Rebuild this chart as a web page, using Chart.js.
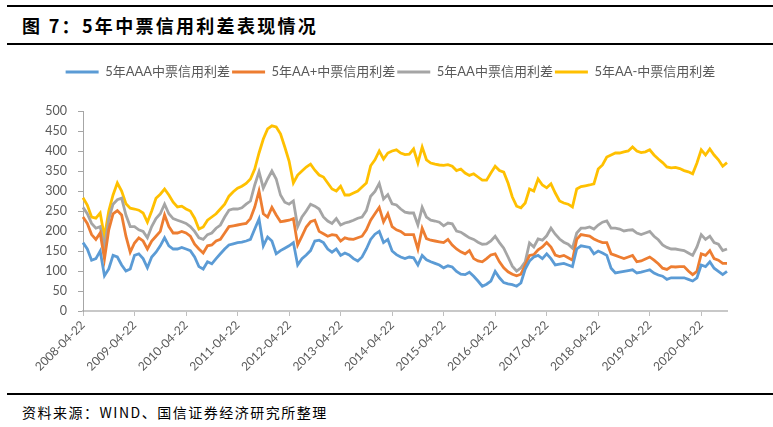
<!DOCTYPE html>
<html>
<head>
<meta charset="utf-8">
<script src="https://cdn.jsdelivr.net/npm/chart.js@4.4.0/dist/chart.umd.min.js"></script>
<style>
  body { margin: 0; width: 773px; height: 427px; background: #fff; position: relative; overflow: hidden;
         font-family: "Noto Sans CJK SC", sans-serif; }
  .rule { position: absolute; left: 7px; right: 0; height: 2px; background: #000; }
  #title { position: absolute; left: 22px; top: 12px; font-size: 18px; font-weight: bold;
           letter-spacing: 2.3px; line-height: 27px; color: #000; }
  #source { position: absolute; left: 22px; top: 402px; font-size: 14px; letter-spacing: 1.5px;
            line-height: 20px; color: #000; }
  #wrap { position: absolute; left: 0; top: 50px; width: 773px; height: 340px; }
</style>
</head>
<body>
<div class="rule" style="top:5px"></div>
<div id="title">图 7：5年中票信用利差表现情况</div>
<div class="rule" style="top:43px"></div>
<div id="wrap"><canvas id="chart" width="773" height="340"></canvas></div>
<div class="rule" style="top:393px"></div>
<div id="source">资料来源：WIND、国信证券经济研究所整理</div>

<script>
// 5-year MTN credit spreads (bp), monthly readings from 2008-04 to 2020-10
const seriesNames = ['5年AAA中票信用利差', '5年AA+中票信用利差', '5年AA中票信用利差', '5年AA-中票信用利差'];
const seriesColors = ['#5b9bd5', '#ed7d31', '#a5a5a5', '#ffc000'];

const spreadAAA = [
  171,155,127,131,150,88,105,139,135,115,
  100,105,139,143,131,108,135,147,163,183,
  163,155,155,159,155,151,135,111,105,123,
  118,131,143,155,165,168,171,172,175,179,
  205,230,163,185,175,143,151,157,163,171,
  115,131,140,151,175,177,171,155,147,155,
  139,145,140,131,125,135,155,179,192,199,
  171,179,150,141,135,131,135,133,115,139,
  128,123,119,115,108,113,110,99,92,91,
  97,87,75,62,67,75,99,83,71,68,
  66,62,70,105,125,135,139,131,143,131,
  115,117,119,115,111,155,163,161,159,143,
  150,145,139,107,95,97,99,101,103,95,
  97,100,103,95,90,87,79,83,83,83,
  83,79,75,83,115,111,123,107,99,91,
  99
];
const spreadAAPlus = [
  235,219,191,179,195,130,203,243,251,240,
  187,147,170,183,175,155,175,187,199,240,
  211,195,195,199,195,187,167,155,145,163,
  165,175,179,195,211,213,215,217,219,231,
  260,300,243,235,259,240,223,225,227,231,
  165,187,210,223,227,199,193,187,191,189,
  175,183,180,179,183,187,203,227,243,259,
  223,243,211,203,199,191,191,191,155,207,
  181,177,175,173,171,179,165,155,148,143,
  151,131,125,123,131,140,143,123,108,98,
  92,88,92,115,139,141,153,160,171,160,
  140,136,139,133,127,179,191,189,187,180,
  175,171,171,143,139,135,131,135,139,123,
  125,130,135,127,118,107,104,111,110,111,
  111,100,91,99,143,139,151,131,127,119,
  119
];
const spreadAA = [
  259,243,219,207,211,160,230,267,278,282,
  240,211,211,203,199,183,211,231,243,267,
  243,231,227,223,219,211,199,183,179,191,
  195,207,215,235,252,255,255,258,267,275,
  315,348,307,330,350,330,290,272,267,275,
  211,235,250,267,262,255,235,225,219,231,
  215,220,223,227,232,235,251,287,299,319,
  280,291,268,265,255,247,245,245,215,259,
  235,227,225,222,213,220,218,200,197,190,
  183,179,172,167,168,175,187,171,157,135,
  112,100,108,123,170,160,180,177,188,207,
  192,180,172,167,157,195,207,207,210,205,
  215,222,225,207,207,205,200,202,203,195,
  191,195,199,187,178,165,159,155,155,153,
  151,145,139,160,191,179,187,171,167,151,
  155
];
const spreadAAMinus = [
  283,265,235,232,245,185,250,290,320,300,
  268,257,255,252,245,222,250,282,292,305,
  290,272,260,262,255,250,232,205,210,227,
  235,243,255,267,287,298,307,312,319,330,
  355,395,430,455,463,460,443,410,375,320,
  340,350,360,367,352,340,335,320,305,300,
  312,290,290,295,300,310,320,363,378,400,
  380,395,400,403,395,391,392,405,370,410,
  378,370,367,365,364,366,362,351,355,345,
  339,343,335,327,327,345,362,351,347,320,
  285,262,258,270,305,300,330,315,308,318,
  295,275,270,267,260,305,311,313,315,318,
  355,365,385,390,395,395,398,400,410,400,
  396,398,403,390,380,371,360,358,359,356,
  351,348,343,370,403,390,405,390,378,362,
  371
];

const tickLabels = ['2008-04-22','2009-04-22','2010-04-22','2011-04-22','2012-04-22','2013-04-22',
  '2014-04-22','2015-04-22','2016-04-22','2017-04-22','2018-04-22','2019-04-22','2020-04-22'];
const yTicks = { min: 0, max: 500, step: 50 };

// one category per month, starting 2008-04
const categories = [];
for (let i = 0; i < spreadAAA.length; i++) {
  const t = 3 + i;
  const y = 2008 + Math.floor(t / 12);
  const m = String(t % 12 + 1).padStart(2, '0');
  categories.push(y + '-' + m + '-22');
}

const FONT = 'Lato, "Noto Sans CJK SC", sans-serif';
const AXIS_GREY = '#bfbfbf';

// Push the plot area down below the legend and nudge the legend right
const legendSpacing = {
  id: 'legendSpacing',
  beforeInit(chart) {
    const fit = chart.legend.fit;
    chart.legend.fit = function () {
      fit.bind(chart.legend)();
      this.height += 22.5;
    };
  },
  afterLayout(chart) {
    chart.legend.left += 27;
    chart.legend.right += 27;
  },
};

const allSeries = [spreadAAA, spreadAAPlus, spreadAA, spreadAAMinus];

new Chart(document.getElementById('chart'), {
  type: 'line',
  data: {
    labels: categories,
    datasets: allSeries.map((vals, i) => ({
      label: seriesNames[i],
      data: vals,
      borderColor: seriesColors[i],
      backgroundColor: seriesColors[i],
      borderWidth: 2.8,
      pointRadius: 0,
      tension: 0,
    })),
  },
  options: {
    responsive: false,
    animation: false,
    devicePixelRatio: 1,
    layout: { padding: { top: 13.5, left: 0, right: 46, bottom: 0 } },
    plugins: {
      legend: {
        position: 'top',
        labels: {
          usePointStyle: true,
          pointStyle: 'line',
          pointStyleWidth: 33,
          padding: 2,
          color: '#595959',
          font: { size: 13, family: FONT },
        },
      },
      tooltip: { enabled: false },
    },
    scales: {
      x: {
        type: 'category',
        offset: false,
        afterFit: s => { s.height = 79; },
        border: { display: true, color: '#c8c8c8', width: 2 },
        grid: {
          drawOnChartArea: false,
          drawTicks: true,
          tickLength: 5,
          color: ctx => (ctx.tick && tickLabels.includes(categories[ctx.tick.value])) ? AXIS_GREY : 'rgba(0,0,0,0)',
        },
        ticks: {
          autoSkip: false,
          minRotation: 45,
          maxRotation: 45,
          padding: 2,
          color: '#595959',
          font: { size: 12, family: FONT },
          callback: function (v) {
            const lab = this.getLabelForValue(v);
            return tickLabels.includes(lab) ? lab : null;
          },
        },
      },
      y: {
        min: yTicks.min,
        max: yTicks.max,
        afterFit: s => { s.width = 83; },
        border: { display: true, color: '#a6a6a6', width: 1 },
        grid: { drawOnChartArea: false, drawTicks: true, tickLength: 5, color: '#a6a6a6' },
        ticks: {
          stepSize: yTicks.step,
          padding: 11,
          color: '#595959',
          font: { size: 12.5, family: FONT },
        },
      },
    },
  },
  plugins: [legendSpacing],
});
</script>
</body>
</html>
